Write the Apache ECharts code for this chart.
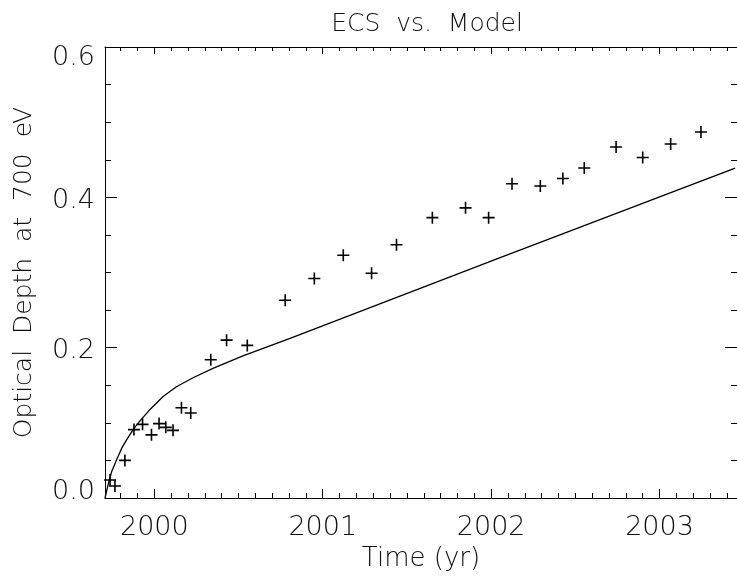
<!DOCTYPE html>
<html>
<head>
<meta charset="utf-8">
<script src="https://cdn.jsdelivr.net/npm/echarts@6/dist/echarts.min.js"></script>
<style>
html,body{margin:0;padding:0;background:#fff;}
#chart{width:737px;height:577px;}
</style>
</head>
<body>
<div id="chart"></div>
<script>
// Observed (ECS) optical depth measurements
var obsYear = [1999.737, 1999.766, 1999.825, 1999.879, 1999.930, 1999.983, 2000.028, 2000.068, 2000.111, 2000.161,
               2000.216, 2000.335, 2000.429, 2000.552, 2000.777, 2000.950, 2001.122, 2001.290, 2001.438, 2001.651,
               2001.848, 2001.985, 2002.124, 2002.292, 2002.426, 2002.553, 2002.742, 2002.900, 2003.066, 2003.246];
var obsDepth = [0.024, 0.016, 0.050, 0.091, 0.098, 0.084, 0.099, 0.094, 0.090, 0.120,
                0.113, 0.184, 0.210, 0.203, 0.263, 0.292, 0.323, 0.299, 0.337, 0.373,
                0.386, 0.373, 0.418, 0.415, 0.425, 0.439, 0.467, 0.453, 0.471, 0.487];
// Model curve
var modelYear = [1999.707, 1999.729, 1999.748, 1999.778, 1999.808, 1999.837, 1999.877, 1999.916, 1999.967, 2000.025,
                 2000.052, 2000.131, 2000.230, 2000.348, 2000.526, 2000.802, 2002.046, 2003.449];
var modelDepth = [0.000, 0.021, 0.036, 0.052, 0.067, 0.078, 0.092, 0.103, 0.116, 0.129,
                  0.135, 0.148, 0.160, 0.1725, 0.189, 0.212, 0.319, 0.439];
// Axis ticks
var majorYears = [2000, 2001, 2002, 2003];
var yTickLabels = ['0.0', '0.2', '0.4', '0.6'];
var xMin = 1999.707, xMax = 2003.46;
var minorYears = [];
for (var k = 19998; k <= 20034; k++) { if (k % 10 !== 0) minorYears.push(k / 10); }

var FONT = "'DejaVu Sans', sans-serif";
var TXT = '#111';
var obsData = obsYear.map(function (x, i) { return [x, obsDepth[i]]; });
var modelData = modelYear.map(function (x, i) { return [x, modelDepth[i]]; });

var plus = 'path://M0,10.4H24V13.6H0Z M10.4,0H13.6V24H10.4Z';
var lineCol = '#000';

function xAx(pos, ticks, len, main) {
  return {
    type: 'value', min: xMin, max: xMax, position: pos,
    axisLine: { show: main, onZero: false, lineStyle: { color: lineCol, width: 1 } },
    axisTick: { show: true, inside: true, length: len, customValues: ticks, lineStyle: { color: lineCol, width: 1 } },
    axisLabel: (main && pos === 'bottom') ? {
      show: true, customValues: majorYears, formatter: function (v) { return String(Math.round(v)); },
      fontSize: 27, fontFamily: FONT, fontWeight: 200, color: TXT, margin: 16
    } : { show: false },
    splitLine: { show: false },
    name: (main && pos === 'bottom') ? 'Time (yr)' : '',
    nameLocation: 'middle', nameGap: 48,
    nameTextStyle: { fontSize: 26, fontFamily: FONT, fontWeight: 200, color: TXT }
  };
}

function yAx(pos, main) {
  var richBase = { fontSize: 27, fontFamily: FONT, fontWeight: 200, color: TXT };
  return {
    type: 'value', min: 0, max: 0.6, interval: 0.2, position: pos,
    axisLine: { show: true, onZero: false, lineStyle: { color: lineCol, width: 1 } },
    axisTick: { show: true, inside: true, length: 12, lineStyle: { color: lineCol, width: 1 } },
    minorTick: { show: true, splitNumber: 4, length: 6, lineStyle: { color: lineCol, width: 1 } },
    axisLabel: main ? {
      show: true, margin: 10,
      formatter: function (v) {
        var idx = Math.round(v / 0.2);
        var s = yTickLabels[idx];
        if (idx === 0) return '{lo|' + s + '}';
        if (idx === 3) return '{hi|' + s + '}';
        return '{mid|' + s + '}';
      },
      rich: {
        lo: Object.assign({ padding: [0, 0, 12, 0] }, richBase),
        hi: Object.assign({ padding: [22, 0, 0, 0] }, richBase),
        mid: Object.assign({ padding: [7, 0, 0, 0] }, richBase)
      }
    } : { show: false },
    splitLine: { show: false },
    minorSplitLine: { show: false },
    name: main ? 'Optical  Depth  at  700  eV' : '',
    nameLocation: 'middle', nameGap: 68,
    nameTextStyle: { fontSize: 25, fontFamily: FONT, fontWeight: 200, color: TXT }
  };
}

var chart = echarts.init(document.getElementById('chart'), null, { renderer: 'canvas' });
chart.setOption({
  backgroundColor: '#fff',
  animation: false,
  title: {
    text: 'ECS  vs.  Model', left: 422, textAlign: 'center', top: 7,
    textStyle: { fontSize: 25, fontFamily: FONT, fontWeight: 200, color: TXT }
  },
  grid: { left: 105, right: -2, top: 47, bottom: 78, containLabel: false },
  xAxis: [
    xAx('bottom', majorYears, 9, true),
    xAx('bottom', minorYears, 5, false),
    xAx('top', majorYears, 7, true),
    xAx('top', minorYears, 4, false)
  ],
  yAxis: [yAx('left', true), yAx('right', false)],
  series: [
    {
      type: 'line', xAxisIndex: 0, yAxisIndex: 0, data: modelData,
      showSymbol: false, symbol: 'none', smooth: false,
      lineStyle: { color: '#000', width: 1.3 }, clip: true, z: 2
    },
    {
      type: 'scatter', xAxisIndex: 0, yAxisIndex: 0, data: obsData,
      symbol: plus, symbolSize: 12,
      itemStyle: { color: '#000', opacity: 1 }, z: 3
    }
  ]
});
</script>
</body>
</html>
